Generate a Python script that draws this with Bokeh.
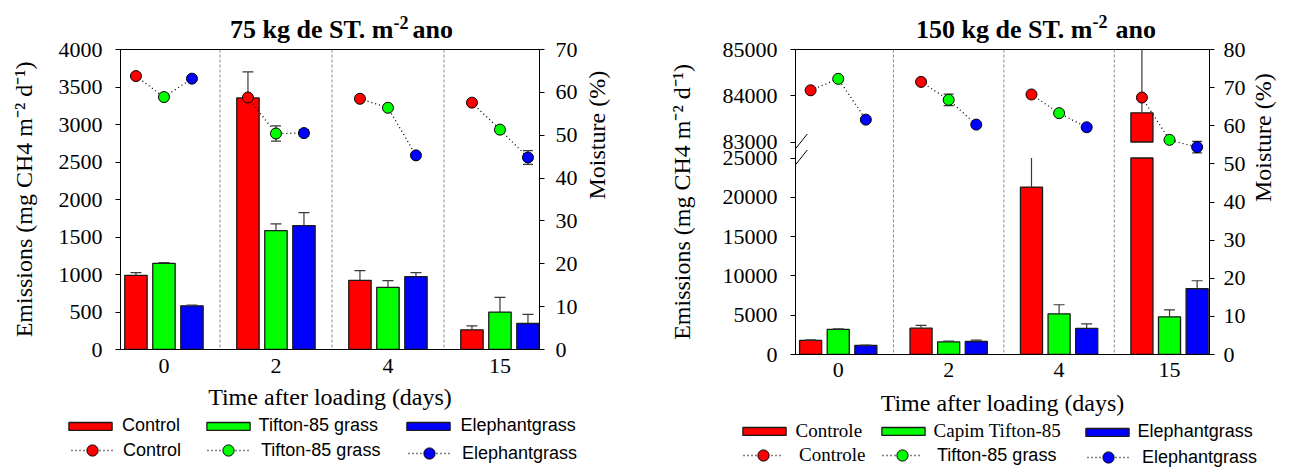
import math
from bokeh.plotting import figure
from bokeh.models import (Range1d, LinearAxis, FixedTicker, Span, Legend,
                          LegendItem, Label, Arrow)
from bokeh.layouts import row, column
from bokeh.embed import file_html
from bokeh.resources import INLINE

# ---------------- data ----------------
days = ["0", "2", "4", "15"]
bar_names_75 = ["Control", "Tifton-85 grass", "Elephantgrass"]
pt_names_75 = ["Control", "Tifton-85 grass", "Elephantgrass"]
bar_names_150 = ["Controle", "Capim Tifton-85", "Elephantgrass"]
pt_names_150 = ["Controle", "Tifton-85 grass", "Elephantgrass"]
colors = ["#FF0000", "#00FF00", "#0000FF"]

# 75 kg de ST
em75_control = [989, 3354, 922, 263]
em75_tifton = [1149, 1586, 829, 499]
em75_elephant = [583, 1652, 971, 347]
em75_control_err = [35, 347, 129, 53]
em75_tifton_err = [9, 89, 89, 196]
em75_elephant_err = [9, 174, 53, 121]
mo75_control = [63.8, 58.8, 58.5, 57.6]
mo75_tifton = [58.9, 50.4, 56.4, 51.3]
mo75_elephant = [63.2, 50.5, 45.3, 44.8]
mo75_control_err = [0, 0, 0, 0]
mo75_tifton_err = [0, 1.8, 0, 0]
mo75_elephant_err = [0, 0.8, 0, 1.6]

# 150 kg de ST
em150_control = [1790, 3354, 21300, 83630]
em150_tifton = [3185, 1614, 5180, 4798]
em150_elephant = [1146, 1656, 3312, 8365]
em150_control_err = [60, 340, 3900, 1600]
em150_tifton_err = [80, 90, 1150, 890]
em150_elephant_err = [40, 170, 595, 1020]
mo150_control = [69.3, 71.5, 68.2, 67.4]
mo150_tifton = [72.3, 66.8, 63.3, 56.3]
mo150_elephant = [61.6, 60.3, 59.6, 54.4]
mo150_control_err = [0, 0, 0, 0]
mo150_tifton_err = [0, 1.5, 0, 0]
mo150_elephant_err = [0, 0, 0, 1.5]

em75_ticks = list(range(0, 4001, 500))
mo75_ticks = list(range(0, 71, 10))
em150_low_ticks = list(range(0, 25001, 5000))
em150_up_ticks = [83000, 84000, 85000]
mo150_ticks = list(range(0, 81, 10))

# ---------------- styling / layout ----------------
SERIF = "Liberation Serif"
SANS = "Liberation Sans"
offsets = [-0.25, 0.0, 0.25]
BAR_W = 0.2
BAR_LINE = "#1a1a1a"
ERR_COL = "#3a3a3a"
NAN = float("nan")
W1, W2 = 640, 651
PAGE_H = 468
TITLE_H = 50          # title strip height
OVERLAP = 14          # plot canvas starts this far above the title strip bottom
PLOT_TOP = TITLE_H - OVERLAP
LEG_TOP1, LEG_TOP2 = 414, 419
PLOT_H1, PLOT_H2 = LEG_TOP1 - PLOT_TOP, LEG_TOP2 - PLOT_TOP


def style_axis(ax, tick_out, label_standoff, axis_label_standoff):
    ax.axis_line_color = "black"
    ax.axis_line_width = 1
    ax.major_tick_line_color = "black"
    ax.major_tick_out = tick_out
    ax.major_tick_in = 0
    ax.minor_tick_line_color = None
    ax.major_label_text_font = SERIF
    ax.major_label_text_font_size = "22px"
    ax.major_label_text_color = "black"
    ax.major_label_standoff = label_standoff
    ax.axis_label_text_font = SERIF
    ax.axis_label_text_font_size = "24px"
    ax.axis_label_text_font_style = "normal"
    ax.axis_label_text_color = "black"
    ax.axis_label_standoff = axis_label_standoff


def flip_label(ax):
    try:
        ax.axis_label_orientation = math.pi / 2
    except Exception:
        pass


def blank_fig(width, height):
    f = figure(width=width, height=height, x_range=Range1d(0, 1),
               y_range=Range1d(0, 1), x_axis_location=None, y_axis_location=None,
               output_backend="svg", toolbar_location=None, min_border=0)
    f.grid.visible = False
    f.outline_line_color = None
    f.background_fill_alpha = 0
    f.border_fill_alpha = 0
    return f


def base_fig(width, height, x0, x1, yr, bl, br, bt, bb):
    p = figure(width=width, height=height, x_range=Range1d(x0, x1), y_range=yr,
               output_backend="svg", toolbar_location=None,
               min_border_left=bl, min_border_right=br, min_border_top=bt,
               min_border_bottom=bb)
    p.xgrid.visible = False
    p.ygrid.visible = False
    p.outline_line_color = "black"
    p.outline_line_width = 1
    p.outline_line_alpha = 1
    p.background_fill_color = "white"
    p.border_fill_alpha = 0
    xa = p.xaxis[0]
    xa.ticker = FixedTicker(ticks=list(range(len(days))))
    xa.major_label_overrides = {i: d for i, d in enumerate(days)}
    xa.axis_label = "Time after loading (days)"
    for s in [0.5, 1.5, 2.5]:
        p.add_layout(Span(location=s, dimension="height", line_color="#8a8a8a",
                          line_dash="3 2", line_width=1, level="underlay"))
    return p


def err_lines(p, xs, y0, y1, cap_y, y_range_name="default"):
    if xs:
        p.segment(x0=xs, y0=y0, x1=xs, y1=y1, line_color=ERR_COL, line_width=1.2,
                  y_range_name=y_range_name)
    cx = [x for x, c in zip(xs, cap_y) if c is not None]
    cy = [c for c in cap_y if c is not None]
    if cx:
        p.scatter(x=cx, y=cy, marker="dash", size=11, line_color=ERR_COL,
                  line_width=1.2, y_range_name=y_range_name)


def moisture(p, series, errs, yname):
    xs = [[i + o for o in offsets] for i in range(len(days))]
    ys = [[s[i] for s in series] for i in range(len(days))]
    p.multi_line(xs=xs, ys=ys, line_color="black", line_width=1.3,
                 line_dash="1 3", y_range_name=yname)
    ex, ey0, ey1 = [], [], []
    for k, (s, e) in enumerate(zip(series, errs)):
        for i in range(len(days)):
            if e[i] > 0:
                ex.append(i + offsets[k])
                ey0.append(s[i] - e[i])
                ey1.append(s[i] + e[i])
    if ex:
        p.segment(x0=ex, y0=ey0, x1=ex, y1=ey1, line_color=ERR_COL,
                  line_width=1.2, y_range_name=yname)
        p.scatter(x=ex + ex, y=ey0 + ey1, marker="dash", size=10,
                  line_color=ERR_COL, line_width=1.2, y_range_name=yname)
    for k, s in enumerate(series):
        p.scatter(x=[i + offsets[k] for i in range(len(days))], y=s,
                  size=11, fill_color=colors[k], line_color="black",
                  line_width=1, y_range_name=yname)


def legend_strip(width, height, x0, bar_names, pt_names, bar_specs, pt_specs):
    """Legend proxies (no drawable data) plus one Legend per entry."""
    f = blank_fig(width, height)
    for k in range(3):
        bar = f.vbar(x=[NAN], bottom=[NAN], top=[NAN], width=0.2,
                     fill_color=colors[k], line_color=BAR_LINE, line_width=1.3)
        ln = f.line(x=[NAN, NAN], y=[NAN, NAN], line_color="black",
                    line_width=1.3, line_dash="1 3")
        pt = f.scatter(x=[NAN], y=[NAN], size=11, fill_color=colors[k],
                       line_color="black", line_width=1)
        for name, rends, (gx, gy, gw, gh, so, font, size) in (
                (bar_names[k], [bar], bar_specs[k]),
                (pt_names[k], [ln, pt], pt_specs[k])):
            h_eff = max(gh, round(size * 1.2))
            f.add_layout(Legend(
                items=[LegendItem(label=name, renderers=rends)],
                location=(gx - x0, PAGE_H - gy - h_eff / 2),
                glyph_width=gw, glyph_height=gh, label_height=gh,
                label_width=10, label_standoff=so, padding=0, margin=0,
                spacing=0, border_line_color=None, background_fill_alpha=0,
                label_text_font=font, label_text_font_size=f"{size}px",
                label_text_color="black"), "center")
    return f


def title_strip(width, x0, x_sup, x_ano, y_base, y_sup, main, sup):
    # y_base / y_sup: page y of the text baselines; Labels are middle-anchored
    f = blank_fig(width, TITLE_H)
    common = dict(x_units="screen", y_units="screen", text_font=SERIF,
                  text_font_style="bold", text_color="black",
                  text_baseline="middle")
    f.add_layout(Label(x=x_sup - x0, y=TITLE_H - (y_base - 0.34 * 26), text=main,
                       text_font_size="26px", text_align="right", **common))
    f.add_layout(Label(x=x_sup - x0, y=TITLE_H - (y_sup - 0.34 * 18), text=sup,
                       text_font_size="18px", text_align="left", **common))
    f.add_layout(Label(x=x_ano - x0, y=TITLE_H - (y_base - 0.34 * 26), text="ano",
                       text_font_size="26px", text_align="left", **common))
    return f


# ================= chart 1: 75 kg =================
FT = 49
FL1, FR1, FB1 = 120, 539, 349
p1 = base_fig(W1, PLOT_H1, -0.388, 3.353, Range1d(0, 4000), FL1, W1 - FR1,
              FT - PLOT_TOP, LEG_TOP1 - FB1)
p1.extra_y_ranges = {"moist": Range1d(0, 70)}
ya1 = p1.yaxis[0]
ya1.ticker = FixedTicker(ticks=em75_ticks)
ya1.axis_label = "Emissions (mg CH4 m\u207b\u00b2 d\u207b\u00b9)"
ra1 = LinearAxis(y_range_name="moist", ticker=FixedTicker(ticks=mo75_ticks),
                 axis_label="Moisture (%)")
p1.add_layout(ra1, "right")
style_axis(p1.xaxis[0], 0, 9, 8)
style_axis(ya1, 5, 13, 19)
style_axis(ra1, 5, 11, 16)
flip_label(ra1)

em75 = [em75_control, em75_tifton, em75_elephant]
em75_err = [em75_control_err, em75_tifton_err, em75_elephant_err]
for k in range(3):
    xs = [i + offsets[k] for i in range(len(days))]
    p1.vbar(x=xs, top=em75[k], width=BAR_W, fill_color=colors[k],
            line_color=BAR_LINE, line_width=1.3)
    tops = [v + e for v, e in zip(em75[k], em75_err[k])]
    err_lines(p1, xs, em75[k], tops, tops)

moisture(p1, [mo75_control, mo75_tifton, mo75_elephant],
         [mo75_control_err, mo75_tifton_err, mo75_elephant_err], "moist")

t1 = title_strip(W1, 0, 393, 412, 37.5, 28.5, "75 kg de ST. m", "-2")
l1 = legend_strip(
    W1, PAGE_H - LEG_TOP1, 0, bar_names_75, pt_names_75,
    [(63, 425, 54, 10, 5, SANS, 18), (200.6, 425, 54, 10, 4, SANS, 18),
     (400.6, 425, 54, 10, 6, SANS, 18)],
    [(71, 450, 42, 28, 10, SANS, 18), (207, 450, 42, 28, 12, SANS, 18),
     (408, 453, 42, 28, 12, SANS, 18)])

# ================= chart 2: 150 kg (broken axis) =================
FL2, FR2, FB2 = 795, 1217, 354
FH2 = FB2 - FT
LOW_TOP = 25000
UP_BOT, UP_TOP = 83000, 85000
frac_low = (FB2 - 157.5) / FH2
frac_up = (141.5 - FT) / FH2
LMAX = LOW_TOP / frac_low
USTART = UP_TOP - (UP_TOP - UP_BOT) / frac_up


def virt(u):
    return math.floor((u - USTART) / (UP_TOP - USTART) * LMAX)


X0_2, X1_2 = -0.387, 3.362
p2 = base_fig(W2, PLOT_H2, X0_2, X1_2, Range1d(0, LMAX), FL2 - W1, W1 + W2 - FR2,
              FT - PLOT_TOP, LEG_TOP2 - FB2)
p2.extra_y_ranges = {"upper": Range1d(USTART, UP_TOP), "moist": Range1d(0, 80)}
ya2 = p2.yaxis[0]
ya2.ticker = FixedTicker(ticks=em150_low_ticks + [virt(u) for u in em150_up_ticks])
ya2.major_label_overrides = {virt(u): str(u) for u in em150_up_ticks}
ya2.axis_label = "Emissions (mg CH4 m\u207b\u00b2 d\u207b\u00b9)"
ra2 = LinearAxis(y_range_name="moist", ticker=FixedTicker(ticks=mo150_ticks),
                 axis_label="Moisture (%)")
p2.add_layout(ra2, "right")
style_axis(p2.xaxis[0], 0, 8, 10)
style_axis(ya2, 5, 13, 25)
style_axis(ra2, 5, 9, 14)
flip_label(ra2)

em150 = [em150_control, em150_tifton, em150_elephant]
em150_err = [em150_control_err, em150_tifton_err, em150_elephant_err]
for k in range(3):
    xs = [i + offsets[k] for i in range(len(days))]
    low_tops = [min(v, LOW_TOP) for v in em150[k]]
    p2.vbar(x=xs, top=low_tops, width=BAR_W, fill_color=colors[k],
            line_color=BAR_LINE, line_width=1.3)
    lx, ly0, ly1, lcap = [], [], [], []
    ux, uy0, uy1, ucap = [], [], [], []
    for i, (v, e) in enumerate(zip(em150[k], em150_err[k])):
        if v <= LOW_TOP:
            lx.append(xs[i]); ly0.append(v); ly1.append(min(v + e, LOW_TOP))
            lcap.append(v + e if v + e <= LOW_TOP else None)
        if v > UP_BOT:
            ux.append(xs[i]); uy0.append(v); uy1.append(v + e)
            ucap.append(v + e if v + e <= UP_TOP else None)
    err_lines(p2, lx, ly0, ly1, lcap)
    if ux:
        p2.vbar(x=ux, bottom=UP_BOT, top=uy0, width=BAR_W, fill_color=colors[k],
                line_color=BAR_LINE, line_width=1.3, y_range_name="upper")
        err_lines(p2, ux, uy0, uy1, ucap, "upper")

moisture(p2, [mo150_control, mo150_tifton, mo150_elephant],
         [mo150_control_err, mo150_tifton_err, mo150_elephant_err], "moist")

# axis-break marks (frame-clipped, so they sit just inside the axis)
xpp = (X1_2 - X0_2) / (FR2 - FL2)
ypp = LMAX / FH2
for yv in [LOW_TOP, virt(UP_BOT)]:
    p2.add_layout(Arrow(end=None, x_start=X0_2 - 1 * xpp, y_start=yv - 8 * ypp,
                        x_end=X0_2 + 12 * xpp, y_end=yv + 8 * ypp,
                        line_color="black", line_width=1))

t2 = title_strip(W2, W1, 1092, 1115, 38, 27.5, "150 kg de ST. m", "-2")
l2 = legend_strip(
    W2, PAGE_H - LEG_TOP2, W1, bar_names_150, pt_names_150,
    [(736.6, 430, 54, 10, 5, SERIF, 19), (875.6, 430, 54, 10, 4, SERIF, 19),
     (1079.6, 431, 54, 10, 4, SANS, 18)],
    [(743, 455, 40, 28, 16, SERIF, 19), (882, 455, 40, 28, 15, SANS, 18),
     (1087, 457, 42, 28, 13, SANS, 18)])

# the plot canvases overlap the (transparent) title strips by OVERLAP px
r1, r2 = row(p1), row(p2)
r1.styles = {"margin-top": f"-{OVERLAP}px"}
r2.styles = {"margin-top": f"-{OVERLAP}px"}
layout = row(column(row(t1), r1, row(l1)),
             column(row(t2), r2, row(l2)))
open("out.html", "w").write(file_html(layout, INLINE))
